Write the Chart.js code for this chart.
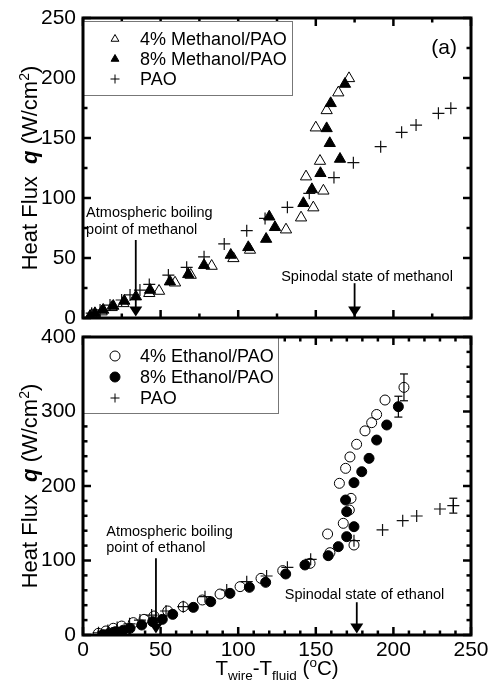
<!DOCTYPE html>
<html>
<head>
<meta charset="utf-8">
<script src="https://cdn.jsdelivr.net/npm/chart.js@4.4.0/dist/chart.umd.min.js"></script>
<style>
  html, body { margin: 0; padding: 0; background: #fff; }
  #wrap { position: relative; width: 492px; height: 684px; overflow: hidden; }
  canvas { position: absolute; left: 0; }
  #top { top: 0; }
  #bot { top: 320px; }
</style>
</head>
<body>
<div id="wrap">
  <canvas id="top" width="492" height="330"></canvas>
  <canvas id="bot" width="492" height="364"></canvas>
</div>
<script>
// ---- panel (a): methanol ----
const meth4X = [5.6, 12, 18.5, 26, 42.7, 49, 59.3, 69.4, 82.9, 96.9, 107.6, 130.8, 140.5, 148.4, 154.9, 143.7, 152.7, 150, 157, 164.5, 171.4];
const meth4Q = [2.5, 5.3, 8.9, 12.2, 20.6, 22.5, 29.4, 35.8, 43.3, 49.7, 56.7, 73.6, 83.6, 92, 106, 117.8, 130.8, 158.6, 173, 187.8, 199.7];
const meth8X = [4.5, 7.7, 13, 19.5, 26.6, 34.1, 43.2, 56, 67.8, 78, 95.2, 106.5, 118, 123.7, 120, 142, 147.5, 153, 165.6, 159, 157, 159.6, 168.8];
const meth8Q = [1.5, 3.9, 6.7, 10, 14.2, 17.8, 23.3, 30.3, 36.4, 44, 52.5, 58.9, 65.8, 75.6, 84.4, 95.6, 107.2, 120.6, 132.5, 145.6, 158, 178.9, 195];
const paoTopX = [5.6, 11, 17.4, 24.9, 30.3, 36.7, 42.7, 55, 66.8, 78, 91, 105.5, 117.3, 131.7, 145.8, 161.7, 174.2, 191.8, 205.3, 214.6, 229, 237];
const paoTopQ = [4, 6.7, 10.8, 15, 19.2, 23.3, 28, 35.8, 42.2, 51, 61.7, 72.8, 83, 92.2, 103.9, 117, 129.4, 142.8, 154.7, 160.8, 170.6, 174.7];

// ---- panel (b): ethanol ----
const eth4X = [9.9, 14.8, 19.5, 24.9, 32.4, 39.3, 45.7, 54.6, 64.6, 76.9, 88.3, 101.2, 114.7, 128.7, 146.3, 159.1, 174.6, 157.6, 167.7, 171.6, 172.7, 165.2, 169.2, 172, 176.3, 181.7, 186, 189.2, 194.6, 206.8];
const eth4Q = [2.2, 5.4, 9, 12, 16.6, 21, 25.5, 32.2, 38, 47, 55, 64.9, 76, 86.4, 96.2, 110.5, 120.8, 135.6, 149.9, 167.8, 183.4, 203.6, 223.7, 239, 256, 274, 285, 296, 315.4, 332.4];
const eth8X = [13, 17, 21, 26, 30.3, 37.8, 44.9, 51.1, 57.8, 71.1, 82.3, 94.7, 107.2, 117.7, 130.6, 143, 158, 164.5, 169.9, 174.6, 169.9, 169.2, 174.6, 179.6, 184.3, 189.2, 195.7, 203.2];
const eth8Q = [0.5, 2.5, 4.5, 6.5, 9, 13.4, 17.9, 21, 27.7, 37.1, 44.7, 55.9, 64, 70.7, 81.9, 94, 106.5, 118.6, 132, 145.4, 165.5, 181.2, 204.5, 219.2, 237.1, 261.7, 281.9, 306.5];
const paoBotX = [10, 16, 22, 30, 36.7, 44.2, 53.5, 64.6, 78.6, 92.6, 105.5, 118.3, 131.7, 146.7, 174.6, 193, 206, 215, 230, 238.6];
const paoBotQ = [3, 6, 10, 15, 20, 26.8, 32.2, 38, 51.5, 60.4, 71.6, 79.2, 90.8, 101.6, 126.6, 141, 153.5, 159.7, 169.1, 173.6];

// error bars (panel b)
const errX = [206.8, 203.2, 238.6];
const errQ = [332.4, 306.5, 173.6];
const errD = [18, 14, 10];

// arrows: x position, top of the shaft (q)
const methArrowX = [34, 175];
const methArrowQ = [65, 29];
const ethArrowX = [47, 176.4];
const ethArrowQ = [103, 44];

const FONT = '"Liberation Sans", Arial, Helvetica, sans-serif';
Chart.defaults.font.family = FONT;
Chart.defaults.font.size = 21;
Chart.defaults.color = '#000';

const pts = (xs, qs) => xs.map((v, i) => ({ x: v, y: qs[i] }));

function seg(ctx, x1, y1, x2, y2) {
  ctx.beginPath(); ctx.moveTo(x1, y1); ctx.lineTo(x2, y2); ctx.stroke();
}

function symbol(ctx, style, filled, r, cx, cy) {
  ctx.beginPath();
  if (style === 'triangle') {
    for (let k = 0; k < 3; k++) {
      const ang = k * 2 * Math.PI / 3;
      const px = cx + Math.sin(ang) * r, py = cy - Math.cos(ang) * r;
      k ? ctx.lineTo(px, py) : ctx.moveTo(px, py);
    }
    ctx.closePath();
  } else if (style === 'circle') {
    ctx.arc(cx, cy, r, 0, Math.PI * 2);
  } else {
    ctx.moveTo(cx - r, cy); ctx.lineTo(cx + r, cy);
    ctx.moveTo(cx, cy - r); ctx.lineTo(cx, cy + r);
  }
  if (filled) ctx.fill();
  ctx.stroke();
}

const panelPlugin = {
  id: 'panel',
  afterDatasetsDraw(chart, args, o) {
    const { ctx, chartArea: a } = chart;
    const x = chart.scales.x, y = chart.scales.y;
    ctx.save();
    ctx.strokeStyle = '#000';
    ctx.fillStyle = '#000';

    // error bars
    ctx.lineWidth = 1.2;
    (o.errX || []).forEach((ex, i) => {
      const px = x.getPixelForValue(ex);
      const p1 = y.getPixelForValue(o.errQ[i] + o.errD[i]);
      const p2 = y.getPixelForValue(o.errQ[i] - o.errD[i]);
      seg(ctx, px, p1, px, p2);
      seg(ctx, px - 4, p1, px + 4, p1);
      seg(ctx, px - 4, p2, px + 4, p2);
    });

    // arrows
    ctx.lineWidth = 1.8;
    o.arrowX.forEach((ax, i) => {
      const px = x.getPixelForValue(ax);
      const top = y.getPixelForValue(o.arrowQ[i]);
      const tip = y.getPixelForValue(0) - 1.5;
      seg(ctx, px, top, px, tip - 6);
      ctx.beginPath();
      ctx.moveTo(px - 6.5, tip - 10);
      ctx.lineTo(px + 6.5, tip - 10);
      ctx.lineTo(px, tip);
      ctx.closePath();
      ctx.fill();
    });

    // notes
    ctx.font = '14.5px ' + FONT;
    ctx.textBaseline = 'middle';
    o.notes.forEach(n => {
      ctx.textAlign = n.align;
      ctx.fillText(n.text, x.getPixelForValue(n.x), y.getPixelForValue(n.q));
    });
    if (o.tag) {
      ctx.font = '21px ' + FONT;
      ctx.textAlign = 'right';
      ctx.fillText(o.tag.text, x.getPixelForValue(o.tag.x), y.getPixelForValue(o.tag.q));
    }

    // inward ticks on all four sides
    ctx.lineWidth = 2.5;
    x.ticks.forEach(t => {
      const px = x.getPixelForValue(t.value);
      const len = t.value % o.xMajor === 0 ? 8 : 4.5;
      seg(ctx, px, a.bottom, px, a.bottom - len);
      seg(ctx, px, a.top, px, a.top + len);
    });
    y.ticks.forEach(t => {
      const py = y.getPixelForValue(t.value);
      const len = t.value % o.yMajor === 0 ? 8 : 4.5;
      seg(ctx, a.left, py, a.left + len, py);
      seg(ctx, a.right, py, a.right - len, py);
    });

    // legend box
    const L = o.legend;
    ctx.fillStyle = '#fff';
    ctx.fillRect(a.left, a.top + L.dy, L.w, L.h);
    ctx.strokeStyle = '#777';
    ctx.lineWidth = 1;
    ctx.strokeRect(a.left + 0.5, a.top + L.dy + 0.5, L.w, L.h);
    ctx.font = '18px ' + FONT;
    ctx.textAlign = 'left';
    chart.data.datasets.forEach((ds, i) => {
      const ry = a.top + L.rows[i];
      ctx.strokeStyle = '#000';
      ctx.fillStyle = '#000';
      ctx.lineWidth = 1;
      symbol(ctx, ds.pointStyle, ds.backgroundColor === '#000', L.r[i], a.left + 32, ry);
      ctx.fillStyle = '#000';
      ctx.fillText(ds.label, a.left + 57, ry + 1);
    });

    // frame
    ctx.strokeStyle = '#000';
    ctx.lineWidth = 3;
    ctx.strokeRect(a.left, a.top, a.width, a.height);

    // y title: Heat Flux  q (W/cm2)
    const parts = [
      ['Heat Flux  ', '22px ' + FONT, 0],
      ['q', 'bold italic 22px ' + FONT, 0],
      [' (W/cm', '22px ' + FONT, 0],
      ['2', '14px ' + FONT, -8],
      [')', '22px ' + FONT, 0]
    ];
    let total = 0;
    parts.forEach(p => { ctx.font = p[1]; total += ctx.measureText(p[0]).width; });
    ctx.translate(37, (a.top + a.bottom) / 2);
    ctx.rotate(-Math.PI / 2);
    ctx.textBaseline = 'alphabetic';
    ctx.fillStyle = '#000';
    let cx = -total / 2;
    parts.forEach(p => {
      ctx.font = p[1];
      ctx.fillText(p[0], cx, p[2]);
      cx += ctx.measureText(p[0]).width;
    });
    ctx.restore();

    // x title on the lower panel: Twire-Tfluid (oC)
    if (o.xTitle) {
      const xp = [
        ['T', '20.5px ' + FONT, 0],
        ['wire', '13.5px ' + FONT, 5],
        ['-T', '20.5px ' + FONT, 0],
        ['fluid', '13.5px ' + FONT, 5],
        [' (', '20.5px ' + FONT, 0],
        ['o', '13.5px ' + FONT, -8],
        ['C)', '20.5px ' + FONT, 0]
      ];
      ctx.save();
      let w = 0;
      xp.forEach(p => { ctx.font = p[1]; w += ctx.measureText(p[0]).width; });
      let sx = (a.left + a.right) / 2 - w / 2;
      const base = a.bottom + 40;
      ctx.textBaseline = 'alphabetic';
      ctx.textAlign = 'left';
      ctx.fillStyle = '#000';
      xp.forEach(p => {
        ctx.font = p[1];
        ctx.fillText(p[0], sx, base + p[2]);
        sx += ctx.measureText(p[0]).width;
      });
      ctx.restore();
    }
  }
};

function makeScales(xStep, xMajor, yMax, yStep, yMajor, showX, xHeight) {
  return {
    x: {
      type: 'linear', min: 0, max: 250,
      grid: { display: false, drawTicks: false, tickLength: 0 }, border: { display: false },
      ticks: {
        display: showX, stepSize: xStep, autoSkip: false, maxRotation: 0, padding: 3,
        callback: v => (v % xMajor === 0 ? v : '')
      },
      afterFit: s => { s.height = xHeight; s.paddingLeft = 0; s.paddingRight = 0; }
    },
    y: {
      type: 'linear', min: 0, max: yMax,
      grid: { display: false, drawTicks: false, tickLength: 0 }, border: { display: false },
      ticks: {
        stepSize: yStep, autoSkip: false, padding: 7,
        callback: v => (v % yMajor === 0 ? v : '')
      },
      afterFit: s => { s.width = 83; s.paddingTop = 0; s.paddingBottom = 0; }
    }
  };
}

const openTri = { pointStyle: 'triangle', pointRadius: 6.5, backgroundColor: 'rgba(0,0,0,0)', borderColor: '#000', borderWidth: 1 };
const fillTri = { pointStyle: 'triangle', pointRadius: 6.5, backgroundColor: '#000', borderColor: '#000', borderWidth: 1 };
const openCir = { pointStyle: 'circle', pointRadius: 5, backgroundColor: 'rgba(0,0,0,0)', borderColor: '#000', borderWidth: 1 };
const fillCir = { pointStyle: 'circle', pointRadius: 5, backgroundColor: '#000', borderColor: '#000', borderWidth: 1 };
const cross = { pointStyle: 'cross', pointRadius: 6, backgroundColor: '#111', borderColor: '#111', borderWidth: 1.2 };

new Chart(document.getElementById('top'), {
  type: 'scatter',
  data: {
    datasets: [
      { label: '4% Methanol/PAO', data: pts(meth4X, meth4Q), ...openTri },
      { label: '8% Methanol/PAO', data: pts(meth8X, meth8Q), ...fillTri },
      { label: 'PAO', data: pts(paoTopX, paoTopQ), ...cross }
    ]
  },
  options: {
    responsive: false, animation: false, devicePixelRatio: 1,
    layout: { padding: { top: 18, right: 21, left: 0, bottom: 0 } },
    scales: makeScales(25, 50, 250, 25, 50, false, 12),
    plugins: {
      legend: { display: false }, tooltip: { enabled: false },
      panel: {
        xMajor: 50, yMajor: 50,
        arrowX: methArrowX, arrowQ: methArrowQ,
        notes: [
          { text: 'Atmospheric boiling', x: 2, q: 87.5, align: 'left' },
          { text: 'point of methanol', x: 2, q: 73, align: 'left' },
          { text: 'Spinodal state of methanol', x: 183, q: 34, align: 'center' }
        ],
        tag: { text: '(a)', x: 241, q: 225 },
        legend: { dy: 3, w: 209, h: 74, rows: [21, 41, 61], r: [4.5, 4.5, 4.5] }
      }
    }
  },
  plugins: [panelPlugin]
});

new Chart(document.getElementById('bot'), {
  type: 'scatter',
  data: {
    datasets: [
      { label: '4% Ethanol/PAO', data: pts(eth4X, eth4Q), ...openCir },
      { label: '8% Ethanol/PAO', data: pts(eth8X, eth8Q), ...fillCir },
      { label: 'PAO', data: pts(paoBotX, paoBotQ), ...cross }
    ]
  },
  options: {
    responsive: false, animation: false, devicePixelRatio: 1,
    layout: { padding: { top: 17, right: 21, left: 0, bottom: 0 } },
    scales: makeScales(10, 50, 400, 20, 100, true, 49),
    plugins: {
      legend: { display: false }, tooltip: { enabled: false },
      panel: {
        xMajor: 50, yMajor: 100,
        errX: errX, errQ: errQ, errD: errD,
        arrowX: ethArrowX, arrowQ: ethArrowQ,
        notes: [
          { text: 'Atmospheric boiling', x: 15, q: 138, align: 'left' },
          { text: 'point of ethanol', x: 15, q: 117, align: 'left' },
          { text: 'Spinodal state of ethanol', x: 181.4, q: 54, align: 'center' }
        ],
        legend: { dy: 0, w: 195, h: 76, rows: [19, 40, 61], r: [5, 5, 4.5] },
        xTitle: true
      }
    }
  },
  plugins: [panelPlugin]
});
</script>
</body>
</html>
